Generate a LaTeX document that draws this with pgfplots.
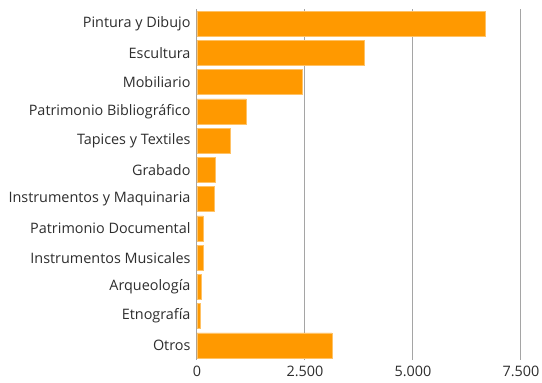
\documentclass[border=0pt]{standalone}
\usepackage{pgfplots}
\pgfplotsset{compat=1.18}
\usepackage{fontspec}
\setmainfont{Open Sans}
\definecolor{barorange}{RGB}{255,153,0}
\definecolor{gridgray}{RGB}{165,165,165}
\definecolor{txt}{RGB}{45,45,45}
\begin{document}
\begin{tikzpicture}[x=1pt,y=1pt]
\useasboundingbox (0,0) rectangle (542,383);
\begin{axis}[
  at={(197pt,23pt)}, anchor=south west,
  scale only axis,
  width=324pt, height=351pt,
  xbar, bar width=25pt,
  xmin=0, xmax=7500,
  ymin=-0.5, ymax=11.5,
  y dir=reverse,
  ytick={0,...,11},
  yticklabels={Pintura y Dibujo,Escultura,Mobiliario,Patrimonio Bibliográfico,Tapices y Textiles,Grabado,Instrumentos y Maquinaria,Patrimonio Documental,Instrumentos Musicales,Arqueología,Etnografía,Otros\hspace{4pt}},
  xtick={0,2500,5000,7500},
  xmajorgrids, grid style={gridgray, line width=1pt},
  major tick length=0pt,
  axis x line*=bottom, axis y line*=left,
  x axis line style={draw=none},
  y axis line style={draw=gridgray, line width=1pt},
  /pgf/number format/assume math mode=true,
  /pgf/number format/.cd, 1000 sep={.}, /pgfplots/.cd,
  scaled x ticks=false,
  tick label style={font=\fontsize{14.4}{17}\selectfont, text=txt},
  yticklabel style={xshift=-3pt},
  xticklabel style={yshift=-5pt, inner sep=1pt},
]
\addplot[fill=barorange, draw=barorange!60!white, line width=0.5pt] coordinates {
(6667,0) (3881,1) (2446,2) (1142,3) (780,4) (432,5) (409,6) (146,7) (139,8) (100,9) (77,10) (3125,11)
};
\end{axis}
\end{tikzpicture}
\end{document}
